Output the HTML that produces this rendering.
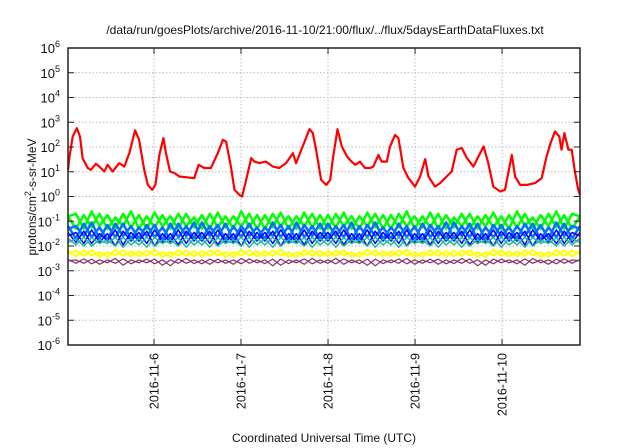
<!DOCTYPE html>
<html><head><meta charset="utf-8"><style>
html,body{margin:0;padding:0;background:#fff;}
svg{display:block;font-family:"Liberation Sans",sans-serif;}
</style></head><body>
<svg id="chart" width="640" height="448" viewBox="0 0 640 448">
<text x="325" y="34" font-size="12" text-anchor="middle" fill="#111">/data/run/goesPlots/archive/2016-11-10/21:00/flux/../flux/5daysEarthDataFluxes.txt</text>
<text transform="translate(36,197) rotate(-90)" font-size="12" text-anchor="middle" fill="#111">protons/cm<tspan dy="-5" font-size="9">2</tspan><tspan dy="5">-s-sr-MeV</tspan></text>
<text x="324" y="442" font-size="12" text-anchor="middle" fill="#111">Coordinated Universal Time (UTC)</text>
<g id="grid"></g><g id="series"></g><g id="axes"></g>
</svg>
<script>
const yTickExps=[-6,-5,-4,-3,-2,-1,0,1,2,3,4,5,6];
const dayLabels=["2016-11-6","2016-11-7","2016-11-8","2016-11-9","2016-11-10"];
const dayHours=[24,48,72,96,120];
const redTimes=[0.3,0.64,1.58,2.7,3.6,4.3,5.7,6.6,8.0,8.9,10.3,11.2,12.6,14.4,15.8,17.2,18.8,19.9,21.3,22.3,23.5,24.4,25.5,26.6,27.3,28.4,29.6,31.0,32.8,35.1,36.3,37.9,39.7,41.6,43.0,43.9,45.2,46.2,47.5,48.3,49.2,50.8,51.7,53.1,54.9,56.8,58.6,60.4,62.3,63.2,65.0,66.9,67.8,68.7,70.1,71.5,72.6,73.3,74.6,75.8,77.2,78.5,79.5,80.8,82.2,83.6,84.5,85.9,86.8,88.2,89.1,90.5,91.4,92.8,94.2,96.0,97.4,98.8,99.7,101.5,102.9,104.7,106.1,107.5,108.9,110.3,112.1,113.5,114.9,116.2,117.6,119.5,120.8,122.7,123.6,125.0,126.8,129.1,130.9,132.3,133.4,134.6,135.8,136.4,137.2,138.3,139.2,140.1,141.0,141.5];
const redLog=[1.08,1.55,2.42,2.76,2.42,1.55,1.15,1.08,1.32,1.21,1.01,1.28,1.01,1.35,1.21,1.75,2.67,2.29,1.08,0.47,0.27,0.47,1.68,2.36,1.75,1.01,0.95,0.81,0.78,0.74,1.28,1.15,1.15,1.75,2.29,2.22,1.21,0.27,0.07,0.0,0.54,1.55,1.41,1.35,1.41,1.21,1.15,1.35,1.75,1.35,2.02,2.72,2.56,1.89,0.67,0.47,0.67,1.48,2.72,2.02,1.62,1.41,1.28,1.41,1.15,1.15,1.21,1.68,1.41,1.41,2.02,2.49,2.36,1.15,0.74,0.40,0.81,1.51,0.81,0.40,0.54,0.81,1.01,1.89,1.96,1.55,1.21,1.62,2.02,1.35,0.40,0.20,0.27,1.68,0.81,0.47,0.47,0.54,0.74,1.62,2.16,2.63,2.42,1.89,2.56,1.89,1.89,1.01,0.27,0.07];
const greenLog=[-0.8,-1.3,-0.75,-1.25,-0.7,-1.3,-0.85,-1.2,-0.6,-1.3,-0.8,-1.25,-0.75,-1.3,-0.7,-1.2,-0.85,-1.3,-0.7,-1.25,-0.8,-1.3,-0.6,-1.25,-0.75,-1.3,-0.7,-1.2,-0.8,-1.3,-0.65,-1.25,-0.75,-1.3,-0.7,-1.2,-0.8,-1.3,-0.65,-1.25,-0.75,-1.3,-0.7,-1.2,-0.8,-1.25,-0.65,-1.3,-0.75,-1.25,-0.7,-1.3,-0.8,-1.2,-0.65,-1.3,-0.75,-1.25,-0.7,-1.3,-0.75,-1.2,-0.6,-1.3,-0.7,-0.8];
const lblueLog=[-1.2,-1.7,-1.1,-1.65,-1.25,-1.75,-1.1,-1.6,-1.2,-1.7,-1.15,-1.65,-1.25,-1.75,-1.1,-1.6,-1.05,-1.7,-1.2,-1.65,-1.1,-1.75,-1.2,-1.6,-1.25,-1.7,-1.05,-1.65,-1.2,-1.75,-1.15,-1.6,-1.1,-1.7,-1.2,-1.65,-1.05,-1.75,-1.15,-1.6,-1.25,-1.7,-1.1,-1.65,-1.2,-1.75,-1.15,-1.6,-1.05,-1.7,-1.2,-1.65,-1.1,-1.75,-1.15,-1.6,-1.25,-1.7,-1.1,-1.65,-1.15,-1.7,-1.05,-1.6,-1.2,-1.3];
const dblueLog=[-1.45,-1.85,-1.4,-1.9,-1.5,-1.8,-1.35,-1.95,-1.45,-1.8,-1.4,-2.0,-1.5,-1.85,-1.35,-1.9,-1.45,-1.8,-1.4,-1.95,-1.5,-1.85,-1.35,-1.9,-1.45,-1.8,-1.4,-2.0,-1.5,-1.85,-1.35,-1.9,-1.45,-1.8,-1.4,-1.95,-1.5,-1.85,-1.35,-1.9,-1.45,-1.8,-1.4,-2.0,-1.5,-1.85,-1.35,-1.9,-1.45,-1.8,-1.4,-1.95,-1.5,-1.85,-1.35,-1.9,-1.45,-1.8,-1.4,-2.0,-1.5,-1.85,-1.35,-1.9,-1.45,-1.6];
const tealLog=[-1.7,-1.95,-1.65,-2.0,-1.75,-1.9,-1.65,-2.05,-1.7,-1.95,-1.65,-2.0,-1.75,-1.9,-1.67,-2.05,-1.7,-1.95,-1.65,-2.0,-1.75,-1.9,-1.65,-2.05,-1.7,-1.95,-1.65,-2.0,-1.75,-1.9,-1.67,-2.05,-1.7,-1.95,-1.65,-2.0,-1.75,-1.9,-1.65,-2.05,-1.7,-1.95,-1.65,-2.0,-1.75,-1.9,-1.67,-2.05,-1.7,-1.95,-1.65,-2.0,-1.75,-1.9,-1.65,-2.05,-1.7,-1.95,-1.65,-2.0,-1.75,-1.9,-1.67,-2.0,-1.7,-1.85];
const yellowLog=[-2.2,-2.42,-2.18,-2.38,-2.25,-2.44,-2.15,-2.4,-2.22,-2.42,-2.18,-2.38,-2.25,-2.44,-2.17,-2.4,-2.2,-2.42,-2.18,-2.38,-2.25,-2.44,-2.15,-2.4,-2.22,-2.42,-2.18,-2.38,-2.25,-2.44,-2.17,-2.4,-2.2,-2.42,-2.18,-2.38,-2.25,-2.44,-2.15,-2.4,-2.22,-2.42,-2.18,-2.38,-2.25,-2.44,-2.17,-2.4,-2.2,-2.42,-2.18,-2.38,-2.25,-2.44,-2.15,-2.4,-2.22,-2.42,-2.18,-2.38,-2.25,-2.44,-2.17,-2.4,-2.2,-2.3];
const purpleLog=[-2.55,-2.7,-2.52,-2.72,-2.56,-2.68,-2.5,-2.78,-2.56,-2.68,-2.53,-2.72,-2.56,-2.8,-2.52,-2.7,-2.56,-2.72,-2.53,-2.68,-2.56,-2.74,-2.5,-2.7,-2.56,-2.71,-2.53,-2.78,-2.56,-2.68,-2.52,-2.72,-2.56,-2.7,-2.5,-2.74,-2.56,-2.71,-2.53,-2.8,-2.56,-2.68,-2.52,-2.72,-2.56,-2.7,-2.53,-2.74,-2.56,-2.71,-2.5,-2.7,-2.56,-2.78,-2.53,-2.68,-2.56,-2.72,-2.52,-2.7,-2.56,-2.74,-2.53,-2.7,-2.56,-2.6];

const L=68,R=580,T=48,B=345,T0=0.28,T1=141.5,Y0=-6,Y1=6;
const xs=t=>L+(t-T0)/(T1-T0)*(R-L);
const ys=v=>B-(v-Y0)/(Y1-Y0)*(B-T);
const NS="http://www.w3.org/2000/svg";
function mk(tag,parent){const e=document.createElementNS(NS,tag);parent.appendChild(e);return e;}
const grid=document.getElementById('grid'),ser=document.getElementById('series'),ax=document.getElementById('axes');

yTickExps.forEach(e=>{
  const y=ys(e);
  if(e>Y0&&e<Y1){const g=mk('line',grid);g.setAttribute('x1',L);g.setAttribute('x2',R);g.setAttribute('y1',y);g.setAttribute('y2',y);g.setAttribute('stroke','#bbb');g.setAttribute('stroke-dasharray','1.5,2');
  
  }
  [[L,L+6],[R,R-6]].forEach(p=>{const t=mk('line',ax);t.setAttribute('x1',p[0]);t.setAttribute('x2',p[1]);t.setAttribute('y1',y);t.setAttribute('y2',y);t.setAttribute('stroke','#222');
  
  });
  const tx=mk('text',ax);tx.setAttribute('x',L-8);tx.setAttribute('y',y+5);tx.setAttribute('text-anchor','end');tx.setAttribute('font-size','13');tx.setAttribute('fill','#111');
  
  
  tx.innerHTML='10<tspan dy="-6" font-size="9">'+e+'</tspan>';
});
dayHours.forEach((h,i)=>{
  const x=xs(h);
  const g=mk('line',grid);g.setAttribute('x1',x);g.setAttribute('x2',x);g.setAttribute('y1',T);g.setAttribute('y2',B);g.setAttribute('stroke','#bbb');g.setAttribute('stroke-dasharray','1.5,2');
  
  
  [[B,B-6],[T,T+6]].forEach(p=>{const t=mk('line',ax);t.setAttribute('x1',x);t.setAttribute('x2',x);t.setAttribute('y1',p[0]);t.setAttribute('y2',p[1]);t.setAttribute('stroke','#222');
  
  });
  const tx=mk('text',ax);tx.setAttribute('transform','translate('+(x+4.5)+','+(B+8)+') rotate(-90)');tx.setAttribute('text-anchor','end');tx.setAttribute('font-size','12.5');tx.setAttribute('fill','#111');
  
  
  tx.textContent=dayLabels[i];
});
function band(vals,color,w,name){
  const n=vals.length;
  const fwd=vals.map((v,i)=>xs(T0+(T1-T0)*i/(n-1)).toFixed(1)+','+ys(v).toFixed(1));
  const p=mk('polyline',ser);p.setAttribute('points',fwd.join(' '));p.setAttribute('fill','none');p.setAttribute('stroke',color);p.setAttribute('stroke-width',w);p.setAttribute('stroke-linejoin','round');
  
  
  const rev=vals.map((v,i)=>xs(T0+(T1-T0)*(n-1-i)/(n-1)).toFixed(1)+','+ys(v).toFixed(1));
  const q=mk('polyline',ser);q.setAttribute('points',rev.join(' '));q.setAttribute('fill','none');q.setAttribute('stroke',color);q.setAttribute('stroke-width',w);q.setAttribute('stroke-linejoin','round');
  
  
}
band(greenLog,'#00ff00',2.5,'series-green');
band(lblueLog,'#0070ff',2.5,'series-light-blue');
band(dblueLog,'#0000ff',1.5,'series-dark-blue');
band(tealLog,'#1fb5a0',1.5,'series-teal');
band(yellowLog,'#ffff00',2,'series-yellow');
band(purpleLog,'#8b2f62',1.2,'series-purple');
(function(){
  const pts=redTimes.map((t,i)=>xs(t).toFixed(1)+','+ys(redLog[i]).toFixed(1)).join(' ');
  const p=mk('polyline',ser);p.setAttribute('points',pts);p.setAttribute('fill','none');p.setAttribute('stroke','#ff0000');p.setAttribute('stroke-width','2.2');p.setAttribute('stroke-linejoin','round');
  
  
})();
const box=mk('rect',ax);box.setAttribute('x',L);box.setAttribute('y',T);box.setAttribute('width',R-L);box.setAttribute('height',B-T);box.setAttribute('fill','none');box.setAttribute('stroke','#222');box.setAttribute('stroke-width','1.5');


</script>
</body></html>
